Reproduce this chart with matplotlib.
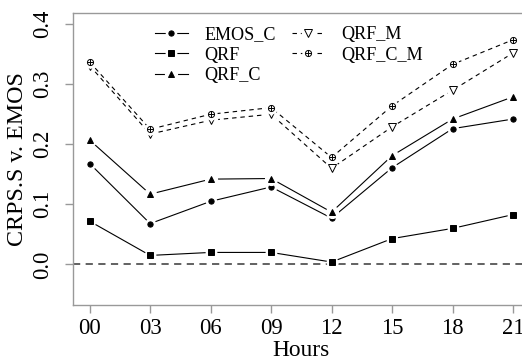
import numpy as np
import matplotlib
matplotlib.use("Agg")
import matplotlib.pyplot as plt
from matplotlib.legend_handler import HandlerTuple

plt.rcParams['font.family'] = ['Liberation Serif', 'DejaVu Serif']

hours = ["00", "03", "06", "09", "12", "15", "18", "21"]

emos_c = [0.168, 0.068, 0.105, 0.129, 0.077, 0.161, 0.226, 0.242]
qrf = [0.072, 0.015, 0.020, 0.020, 0.004, 0.043, 0.060, 0.083]
qrf_c = [0.207, 0.117, 0.142, 0.143, 0.087, 0.181, 0.242, 0.279]
qrf_m = [0.331, 0.217, 0.240, 0.250, 0.160, 0.229, 0.290, 0.352]
qrf_c_m = [0.337, 0.225, 0.250, 0.261, 0.178, 0.264, 0.333, 0.374]

x = np.arange(len(hours))

fig = plt.figure(figsize=(5.22, 3.62), dpi=100)
ax = fig.add_axes([72.7 / 522, 1 - 305.3 / 362, (530 - 72.7) / 522, (305.3 - 13.3) / 362])

# zero reference line
ax.axhline(0, color="#555555", lw=1.3, ls=(0, (4, 3)), zorder=1)

dash = (0, (4, 3.5))
series = [
    ("EMOS_C", emos_c, "-", "o", 3.8, "k"),
    ("QRF", qrf, "-", "s", 4.0, "k"),
    ("QRF_C", qrf_c, "-", "^", 5.0, "k"),
    ("QRF_M", qrf_m, dash, "v", 5.2, "w"),
    ("QRF_C_M", qrf_c_m, dash, "o", 4.4, "w"),
]

handles = []
labels = []
z = 2
for name, vals, ls, mk, ms, fc in series:
    ln, = ax.plot(x, vals, color="k", lw=0.8, ls=ls, zorder=z)
    # white halo gives the gap around the points, like R type="b"
    halo, = ax.plot(x, vals, ls="none", marker="o", ms=ms + 4.5, mfc="w", mec="none", zorder=z + 0.1)
    pt, = ax.plot(x, vals, ls="none", marker=mk, ms=ms, mfc=fc, mec="k", mew=0.7, zorder=z + 0.2)
    h = [ln, halo, pt]
    if name == "QRF_C_M":
        plus, = ax.plot(x, vals, ls="none", marker="+", ms=ms, mec="k", mew=0.7, zorder=z + 0.3)
        h.append(plus)
    handles.append(tuple(h))
    labels.append(name)
    z += 1

ax.set_xlim(-0.28, 7.28)
ax.set_ylim(-0.068, 0.418)
ax.set_xticks(x)
ax.set_xticklabels(hours)
ax.set_yticks([0.0, 0.1, 0.2, 0.3, 0.4])
ax.set_yticklabels(["0.0", "0.1", "0.2", "0.3", "0.4"])

for s in ["left", "bottom", "top"]:
    ax.spines[s].set_color("#999999")
    ax.spines[s].set_linewidth(1.0)
ax.spines["right"].set_visible(False)

ax.tick_params(axis="both", colors="#999999", labelcolor="k", labelsize=16.3, length=6, width=1.0)
ax.tick_params(axis="x", pad=3)
ax.tick_params(axis="y", pad=8, labelrotation=90)
for lab in ax.get_yticklabels():
    lab.set_va("center")

ax.set_xlabel("Hours", fontsize=16.8, labelpad=1)
ax.set_ylabel("CRPS.S v. EMOS", fontsize=17.3, labelpad=3)

ax.legend(handles, labels, ncol=2, loc="upper left", bbox_to_anchor=(0.18, 0.955),
          frameon=False, fontsize=13.1, handlelength=1.8, handletextpad=0.9,
          labelspacing=0.18, columnspacing=0.9, borderpad=0, borderaxespad=0,
          handler_map={tuple: HandlerTuple(ndivide=1)})

fig.savefig("out.png", dpi=100)
